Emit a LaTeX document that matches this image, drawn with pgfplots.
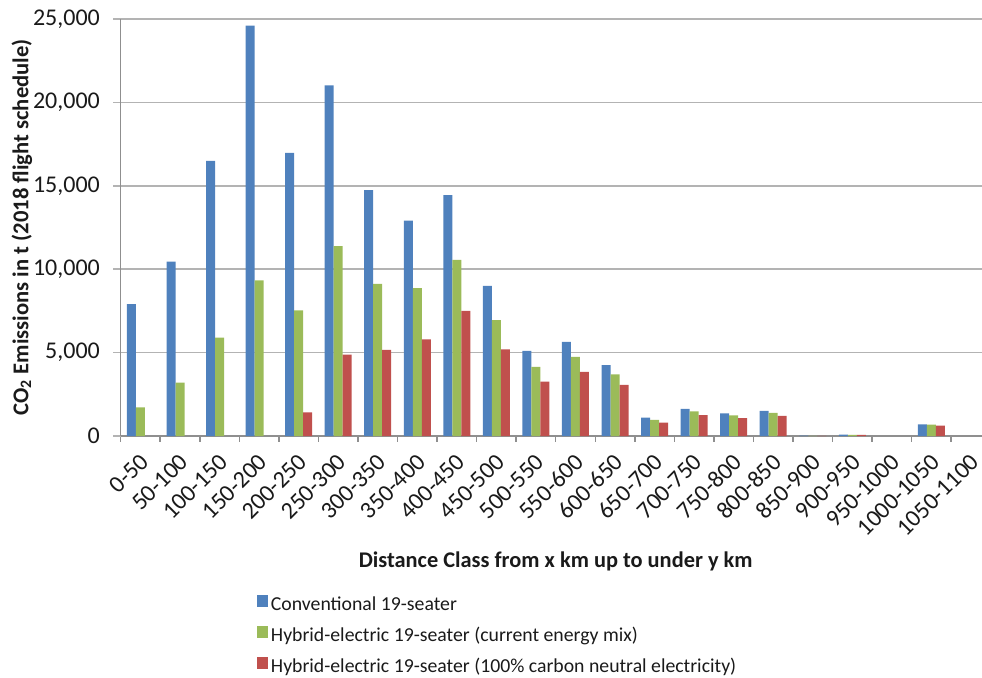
\documentclass[border=0pt]{standalone}
\usepackage{fontspec}
\setmainfont{Carlito}
\usepackage{pgfplots}
\pgfplotsset{compat=1.18}

\definecolor{convblue}{HTML}{4F81BD}
\definecolor{hybgreen}{HTML}{9BBB59}
\definecolor{neutred}{HTML}{C0504D}
\definecolor{gridgray}{HTML}{B3B3B3}
\definecolor{txt}{HTML}{1A1A1A}

\begin{document}
\begin{tikzpicture}
\useasboundingbox (-48.28pt,-96.4pt) rectangle (344.52pt,174.4pt);
\begin{axis}[
  at={(0,0)}, anchor=south west,
  scale only axis,
  width=348pt, height=166.8pt,
  xmin=-0.5, xmax=21.5,
  ymin=0, ymax=25000,
  axis lines*=left,
  axis line style={gridgray!80!black, line width=0.6pt},
  ybar=0pt, bar width=3.6pt,
  xtick={0,...,21},
  xticklabels={0-50,50-100,100-150,150-200,200-250,250-300,300-350,350-400,400-450,450-500,500-550,550-600,600-650,650-700,700-750,750-800,800-850,850-900,900-950,950-1000,1000-1050,1050-1100},
  major x tick style={draw=none},
  minor xtick={-0.5,0.5,...,21.5},
  minor x tick style={gridgray!80!black, line width=0.6pt},
  minor tick length=2.2pt,
  xtick align=outside,
  x tick label style={xshift=2.4pt, yshift=-5pt, rotate=45, anchor=east, font=\fontsize{9.6}{11}\selectfont, text=txt, inner sep=1pt},
  ytick={0,5000,...,25000},
  scaled y ticks=false,
  ytick align=outside,
  major tick length=3pt,
  y tick style={gridgray, line width=0.6pt},
  y tick label style={xshift=-1.8pt, font=\fontsize{9.6}{11}\selectfont, text=txt},
  ymajorgrids,
  grid style={gridgray, line width=0.6pt},
  /pgf/number format/.cd, 1000 sep={,}, assume math mode=true,
  /pgfplots/.cd,
  xlabel={\bfseries Distance Class from x km up to under y km},
  xlabel style={font=\fontsize{8.95}{11}\selectfont, text=txt, at={([yshift=-50pt]axis description cs:0.5,0)}, anchor=center},
  ylabel={\bfseries CO\textsubscript{2} Emissions in t (2018 flight schedule)},
  ylabel style={font=\fontsize{9.05}{11}\selectfont, text=txt, at={([xshift=-39.5pt]axis description cs:0,0.5)}, anchor=center},
  legend style={draw=none, fill=none, at={(axis description cs:0,0)}, anchor=north west, xshift=54.3pt, yshift=-63.4pt,
    font=\fontsize{7.9}{9.5}\selectfont, text=txt, legend cell align=left,
    row sep=4.2pt, inner sep=0pt,
    nodes={inner xsep=1pt, inner ysep=0pt, text height=6pt, text depth=2pt}},
  legend image code/.code={\fill[#1] (0pt,-0.4pt) rectangle (4.6pt,4.2pt);},
]
% Conventional 19-seater
\addplot[fill=convblue, draw=none, bar shift=-3.6pt] coordinates {
 (0,7900) (1,10450) (2,16500) (3,24600) (4,16970) (5,21020) (6,14740) (7,12920)
 (8,14440) (9,9000) (10,5100) (11,5640) (12,4250) (13,1100) (14,1630) (15,1350)
 (16,1510) (17,20) (18,80) (20,700)};
% Hybrid-electric, current energy mix
\addplot[fill=hybgreen, draw=none, bar shift=0pt] coordinates {
 (0,1720) (1,3200) (2,5900) (3,9330) (4,7530) (5,11380) (6,9120) (7,8860)
 (8,10560) (9,6940) (10,4140) (11,4740) (12,3700) (13,960) (14,1470) (15,1230)
 (16,1390) (17,15) (18,75) (20,680)};
% Hybrid-electric, 100% carbon neutral electricity
\addplot[fill=neutred, draw=none, bar shift=3.6pt] coordinates {
 (4,1420) (5,4880) (6,5160) (7,5800)
 (8,7500) (9,5200) (10,3260) (11,3840) (12,3070) (13,800) (14,1250) (15,1070)
 (16,1210) (17,10) (18,70) (20,620)};
\legend{Conventional 19-seater,
        Hybrid-electric 19-seater (current energy mix),
        Hybrid-electric 19-seater (100\% carbon neutral electricity)}
\end{axis}
\end{tikzpicture}
\end{document}
